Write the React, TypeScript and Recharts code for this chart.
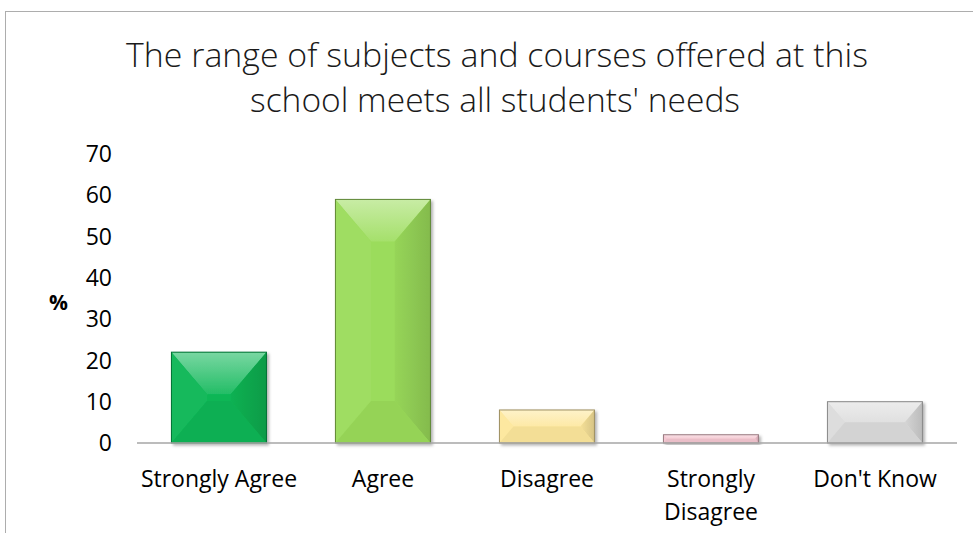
import { BarChart, Bar, XAxis, YAxis, Cell, Label } from "recharts";

const categories = ["Strongly Agree", "Agree", "Disagree", "Strongly\nDisagree", "Don't Know"];
const percents = [22, 59, 8, 2, 10];
const barColors = ["#0bb655", "#9bdc5b", "#fde79c", "#f4c6d0", "#dcdcdc"];
const yTicks = [0, 10, 20, 30, 40, 50, 60, 70];
const titleLines = [
  "The range of subjects and courses offered at this",
  "school meets all students' needs",
];

const data = categories.map((name, i) => ({ name, value: percents[i] }));

// mix a hex colour toward white (amt > 0) or black (amt < 0)
const shade = (hex: string, amt: number) => {
  const n = parseInt(hex.slice(1), 16);
  const ch = [(n >> 16) & 255, (n >> 8) & 255, n & 255].map((c) =>
    Math.round(amt >= 0 ? c + (255 - c) * amt : c * (1 + amt))
  );
  return "#" + ch.map((c) => c.toString(16).padStart(2, "0")).join("");
};

const BevelBar = (props: any) => {
  const { x, y, width: w, height: h, fill, index } = props;
  if (!h || h <= 0) return null;
  const dy = Math.min(42, h / 2);
  const dx = Math.min(dy * 0.85, w / 2);
  const gid = `bevel-top-${index}`;
  const rid = `bevel-right-${index}`;
  return (
    <g filter="url(#barShadow)">
      <defs>
        <linearGradient id={gid} x1="0" y1="0" x2="0" y2="1">
          <stop offset="0%" stopColor={shade(fill, 0.45)} />
          <stop offset="100%" stopColor={shade(fill, 0.1)} />
        </linearGradient>
        <linearGradient id={rid} x1="0" y1="0" x2="1" y2="0">
          <stop offset="0%" stopColor={shade(fill, -0.03)} />
          <stop offset="100%" stopColor={shade(fill, -0.15)} />
        </linearGradient>
      </defs>
      <rect x={x} y={y} width={w} height={h} fill={fill} />
      <polygon
        points={`${x},${y} ${x + w},${y} ${x + w - dx},${y + dy} ${x + dx},${y + dy}`}
        fill={`url(#${gid})`}
      />
      <polygon
        points={`${x},${y} ${x + dx},${y + dy} ${x + dx},${y + h - dy} ${x},${y + h}`}
        fill={shade(fill, 0.04)}
      />
      <polygon
        points={`${x + w},${y} ${x + w - dx},${y + dy} ${x + w - dx},${y + h - dy} ${x + w},${y + h}`}
        fill={`url(#${rid})`}
      />
      <polygon
        points={`${x},${y + h} ${x + dx},${y + h - dy} ${x + w - dx},${y + h - dy} ${x + w},${y + h}`}
        fill={shade(fill, -0.04)}
      />
      <rect x={x} y={y} width={w} height={h} fill="none" stroke={shade(fill, -0.38)} strokeWidth={1} />
    </g>
  );
};

const CategoryTick = (props: any) => {
  const { x, y, payload } = props;
  const lines = String(payload.value).split("\n");
  return (
    <text x={x} y={y} textAnchor="middle" fill="#000" fontSize={23} fontFamily="'Open Sans', sans-serif">
      {lines.map((l, i) => (
        <tspan key={i} x={x} dy={i === 0 ? 44 : 33}>
          {l}
        </tspan>
      ))}
    </text>
  );
};

export default function App() {
  return (
    <div style={{ position: "absolute", left: 0, top: 0, width: 973, height: 533, background: "#fff", overflow: "hidden" }}>
      <div
        style={{
          position: "absolute",
          left: 5,
          top: 11,
          width: 968,
          height: 522,
          borderTop: "1px solid #adadad",
          borderLeft: "1px solid #adadad",
        }}
      >
        <BarChart
          width={967}
          height={521}
          data={data}
          margin={{ top: 142, right: 16, left: 0, bottom: 0 }}
          barCategoryGap="21%"
        >
          <XAxis
            dataKey="name"
            height={90}
            tickLine={false}
            tickSize={0}
            tickMargin={0}
            axisLine={{ stroke: "#a6a6a6", strokeWidth: 1.5 }}
            tick={<CategoryTick />}
            interval={0}
          />
          <YAxis
            width={131}
            domain={[0, 70]}
            ticks={yTicks}
            axisLine={false}
            tickLine={false}
            tickSize={0}
            tickMargin={25}
            tick={{ fill: "#000", fontSize: 23, fontFamily: "'Open Sans', sans-serif" }}
          >
            <Label
              value="%"
              position="insideLeft"
              offset={43}
              dy={4}
              style={{ fill: "#000", fontSize: 21, fontWeight: 700, fontFamily: "'Open Sans', sans-serif" }}
            />
          </YAxis>
          <Bar dataKey="value" shape={<BevelBar />} isAnimationActive={false}>
            {data.map((d, i) => (
              <Cell key={d.name} fill={barColors[i]} />
            ))}
          </Bar>
        </BarChart>
      </div>
      <svg width={973} height={130} style={{ position: "absolute", left: 0, top: 0, pointerEvents: "none" }}>
        <defs>
          <filter id="barShadow" x="-10%" y="-10%" width="125%" height="130%">
            <feDropShadow dx={2} dy={2} stdDeviation={1.5} floodColor="#000" floodOpacity={0.3} />
          </filter>
        </defs>
        <text
          x={497}
          y={67}
          textAnchor="middle"
          fontSize={33}
          fontWeight={300}
          fontFamily="'Open Sans', sans-serif"
          fill="#1a1a1a"
          textLength={742}
          lengthAdjust="spacingAndGlyphs"
        >
          {titleLines[0]}
        </text>
        <text
          x={495}
          y={112}
          textAnchor="middle"
          fontSize={33}
          fontWeight={300}
          fontFamily="'Open Sans', sans-serif"
          fill="#1a1a1a"
          textLength={490}
          lengthAdjust="spacingAndGlyphs"
        >
          {titleLines[1]}
        </text>
      </svg>
    </div>
  );
}
